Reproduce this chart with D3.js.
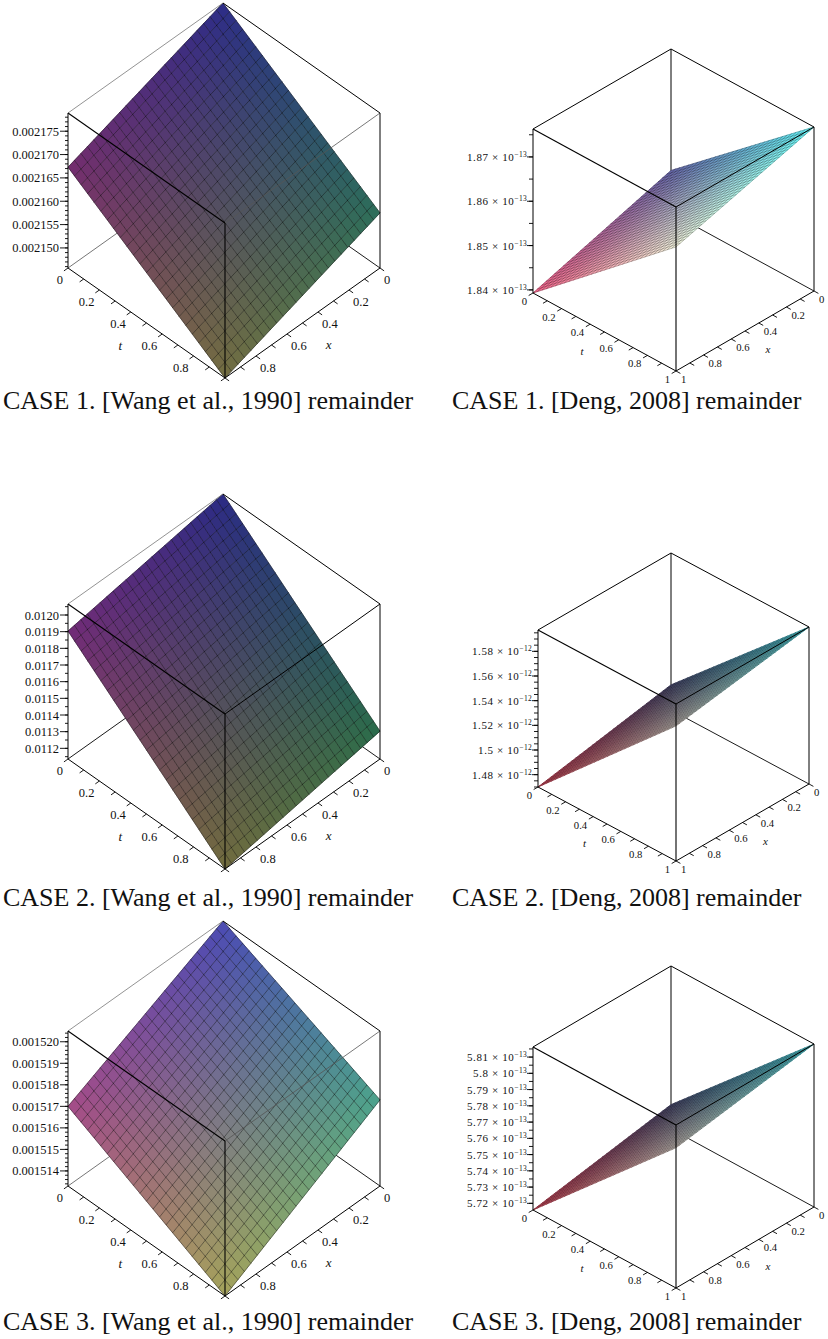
<!DOCTYPE html>
<html>
<head>
<meta charset="utf-8">
<script src="https://cdn.jsdelivr.net/npm/d3@7"></script>
<style>
    body { margin: 0; background: #fff; }
    svg { display: block; }
    text { font-family: "Liberation Serif", "Times New Roman", serif; fill: #111; }
</style>
</head>
<body>
<svg id="chart" width="828" height="1339"></svg>
<script>
// captions
const caseNames = ['CASE 1.', 'CASE 2.', 'CASE 3.'];
const methodNames = ['[Wang et al., 1990] remainder', '[Deng, 2008] remainder'];

// t and x axis ticks
const wangAxisTicks = [0, 0.2, 0.4, 0.6, 0.8];
const dengAxisTicks = [0, 0.2, 0.4, 0.6, 0.8, 1];

// remainder at the four corners (t,x) = (0,0), (0,1), (1,0), (1,1)
const wangCase1 = [0.0021789, 0.0021673, 0.0021575, 0.0021457];
const wangCase2 = [0.012066, 0.011904, 0.011303, 0.011136];
const wangCase3 = [0.0015205, 0.0015170, 0.0015173, 0.0015133];
const dengCase1 = [1.8489e-13, 1.8393e-13, 1.8763e-13, 1.8673e-13];
const dengCase2 = [1.4904e-12, 1.4700e-12, 1.5973e-12, 1.5795e-12];
const dengCase3 = [5.7309e-13, 5.7159e-13, 5.8162e-13, 5.8022e-13];

// z axis tick values
const wangCase1Ticks = [0.002150, 0.002155, 0.002160, 0.002165, 0.002170, 0.002175];
const wangCase2Ticks = [0.0112, 0.0113, 0.0114, 0.0115, 0.0116, 0.0117, 0.0118, 0.0119, 0.0120];
const wangCase3Ticks = [0.001514, 0.001515, 0.001516, 0.001517, 0.001518, 0.001519, 0.001520];
const dengCase1Ticks = [1.84e-13, 1.85e-13, 1.86e-13, 1.87e-13];
const dengCase2Ticks = [1.48e-12, 1.50e-12, 1.52e-12, 1.54e-12, 1.56e-12, 1.58e-12];
const dengCase3Ticks = [5.72e-13, 5.73e-13, 5.74e-13, 5.75e-13, 5.76e-13, 5.77e-13, 5.78e-13, 5.79e-13, 5.80e-13, 5.81e-13];
const wangMinorSteps = [1e-6, 5e-5, 2e-7];
const dengMinorSteps = [0.005e-13, 0.005e-12, 0.005e-13];
const dengExponents = [-13, -12, -13];

const svg = d3.select('#chart');

// screen placement of each box: origin = (t=0, x=0, zmin), and unit vectors
// base and gain per rgb channel for the (x, t, z) colouring
const wangLayout = [
    { o: [223, 158], T: [157, 110], X: [-155, 110], Z: [0, -155],
      base: [45, 45, 65], gain: [70, 65, 70], grey: true },
    { o: [223, 649], T: [157, 110], X: [-155, 110], Z: [0, -155],
      base: [43, 43, 62], gain: [70, 65, 70], grey: false },
    { o: [223, 1076], T: [157, 110], X: [-155, 110], Z: [0, -155],
      base: [75, 75, 90], gain: [90, 88, 90], grey: true }
];
const dengLayout = [
    { o: [671, 213], T: [143, 78], X: [-138, 80], Z: [0, -164],
      base: [100, 100, 140], gain: [150, 150, 115] },
    { o: [671, 710], T: [138, 74], X: [-133, 77], Z: [0, -157],
      base: [70, 70, 90], gain: [140, 130, 120] },
    { o: [671, 1129], T: [143, 78], X: [-138, 81], Z: [0, -163],
      base: [70, 70, 90], gain: [140, 130, 120] }
];
const captionY = [409, 906, 1330];

const wangData = [wangCase1, wangCase2, wangCase3];
const wangTicks = [wangCase1Ticks, wangCase2Ticks, wangCase3Ticks];
const dengData = [dengCase1, dengCase2, dengCase3];
const dengTicks = [dengCase1Ticks, dengCase2Ticks, dengCase3Ticks];

wangLayout.forEach((lay, i) => {
    drawPanel(Object.assign({}, lay, {
        corners: wangData[i], zTicks: wangTicks[i], minor: wangMinorSteps[i],
        axisTicks: wangAxisTicks, kind: 'wang',
        fmt: i === 1 ? d3.format('.4f') : d3.format('.6f')
    }));
    svg.append('text').attr('x', 3).attr('y', captionY[i])
        .style('font-size', '26px')
        .text(caseNames[i] + ' ' + methodNames[0]);
});

dengLayout.forEach((lay, i) => {
    drawPanel(Object.assign({}, lay, {
        corners: dengData[i], zTicks: dengTicks[i], minor: dengMinorSteps[i],
        axisTicks: dengAxisTicks, kind: 'deng', exponent: dengExponents[i]
    }));
    svg.append('text').attr('x', 452).attr('y', captionY[i])
        .style('font-size', '26px')
        .text(caseNames[i] + ' ' + methodNames[1]);
});

function drawPanel(p) {
    const g = svg.append('g');
    const wang = p.kind === 'wang';
    const zScale = d3.scaleLinear().domain(d3.extent(p.corners)).range([0, 1]);
    const unit = d3.scaleLinear().domain([0, 1]).range([0, 1]);

    const proj = (t, x, zn) => [
        p.o[0] + p.T[0] * unit(t) + p.X[0] * unit(x) + p.Z[0] * zn,
        p.o[1] + p.T[1] * unit(t) + p.X[1] * unit(x) + p.Z[1] * zn
    ];
    const c = p.corners;
    const surfZ = (t, x) => zScale(
        c[0] * (1 - t) * (1 - x) + c[1] * (1 - t) * x + c[2] * t * (1 - x) + c[3] * t * x
    );
    const colour = (t, x, zn) => d3.rgb(
        p.base[0] + p.gain[0] * x,
        p.base[1] + p.gain[1] * t,
        p.base[2] + p.gain[2] * zn
    ).toString();

    const line = d3.line();
    const V = {
        A: proj(0, 0, 1), B: proj(0, 1, 1), C: proj(1, 0, 1), D: proj(1, 1, 1),
        E: proj(0, 0, 0), F: proj(0, 1, 0), G: proj(1, 0, 0), H: proj(1, 1, 0)
    };
    const edge = (a, b, stroke, w) => g.append('path')
        .attr('d', line([V[a], V[b]]))
        .attr('fill', 'none')
        .attr('stroke', stroke)
        .attr('stroke-width', w);

    // back edges, hidden by the surface
    edge('E', 'A', '#000', 1);
    edge('E', 'F', wang && p.grey ? '#666' : '#000', 0.9);
    edge('E', 'G', '#000', 0.9);

    // surface
    const n = wang ? 25 : 33;
    const grid = d3.range(n).map(i => i / (n - 1));
    const cells = [];
    for (let i = 0; i < n - 1; i++) {
        for (let j = 0; j < n - 1; j++) {
            cells.push({ t0: grid[i], t1: grid[i + 1], x0: grid[j], x1: grid[j + 1] });
        }
    }
    const cellColour = d => {
        const t = (d.t0 + d.t1) / 2, x = (d.x0 + d.x1) / 2;
        return colour(t, x, surfZ(t, x));
    };
    g.append('g').selectAll('path')
        .data(cells)
        .enter()
        .append('path')
        .attr('d', d => line([
            proj(d.t0, d.x0, surfZ(d.t0, d.x0)),
            proj(d.t1, d.x0, surfZ(d.t1, d.x0)),
            proj(d.t1, d.x1, surfZ(d.t1, d.x1)),
            proj(d.t0, d.x1, surfZ(d.t0, d.x1))
        ]) + 'Z')
        .attr('fill', cellColour)
        .attr('stroke', cellColour)
        .attr('stroke-width', 0.6);

    const mesh = g.append('g')
        .attr('fill', 'none')
        .attr('stroke', '#000')
        .attr('stroke-opacity', wang ? 0.45 : 0.42)
        .attr('stroke-width', wang ? 0.9 : 0.6);
    grid.forEach(u => {
        mesh.append('path').attr('d', line([proj(u, 0, surfZ(u, 0)), proj(u, 1, surfZ(u, 1))]));
        mesh.append('path').attr('d', line([proj(0, u, surfZ(0, u)), proj(1, u, surfZ(1, u))]));
    });

    // front edges
    edge('A', 'B', wang ? '#777' : '#000', wang ? 0.8 : 1);
    edge('A', 'C', '#000', 1);
    edge('B', 'D', '#000', 1.1);
    edge('C', 'D', wang && p.grey ? '#555' : '#000', wang && p.grey ? 0.8 : 1);
    edge('B', 'F', '#000', 1);
    edge('C', 'G', '#000', 1);
    edge('D', 'H', '#000', 1.1);
    edge('F', 'H', '#000', 1);
    edge('G', 'H', '#000', 1);

    // t and x axis tick marks
    const norm = v => { const l = Math.hypot(v[0], v[1]); return [v[0] / l, v[1] / l]; };
    const Xu = norm(p.X), Tu = norm(p.T);
    const ticks = g.append('g').attr('stroke', '#000').attr('stroke-width', 0.9);
    d3.range(11).map(k => k / 10).forEach(u => {
        const a = proj(u, 1, 0), b = proj(1, u, 0);
        ticks.append('path').attr('d', line([a, [a[0] + Xu[0] * 5, a[1] + Xu[1] * 5]]));
        ticks.append('path').attr('d', line([b, [b[0] + Tu[0] * 5, b[1] + Tu[1] * 5]]));
    });

    const axisFont = wang ? '12.5px' : '10.7px';
    const dy = wang ? 16 : 12;
    const off = wang ? 5 : 6;
    p.axisTicks.forEach(u => {
        const a = proj(u, 1, 0), b = proj(1, u, 0);
        g.append('text').attr('x', a[0] - off).attr('y', a[1] + dy)
            .attr('text-anchor', 'end').style('font-size', axisFont).text(u);
        g.append('text').attr('x', b[0] + off - 1).attr('y', b[1] + dy)
            .attr('text-anchor', 'start').style('font-size', axisFont).text(u);
    });

    const tm = proj(0.5, 1, 0), xm = proj(1, 0.5, 0);
    const lab = wang ? 32 : 26;
    g.append('text')
        .attr('x', tm[0] + Xu[0] * lab).attr('y', tm[1] + Xu[1] * lab + (wang ? 8 : 10))
        .attr('text-anchor', 'middle').style('font-size', wang ? '13px' : '11px')
        .style('font-style', 'italic').text('t');
    g.append('text')
        .attr('x', xm[0] + Tu[0] * lab).attr('y', xm[1] + Tu[1] * lab + (wang ? 8 : 10))
        .attr('text-anchor', 'middle').style('font-size', wang ? '13px' : '11px')
        .style('font-style', 'italic').text('x');

    // z axis on the left vertical edge
    const [z0, z1] = zScale.domain();
    const minorTicks = d3.range(Math.ceil(z0 / p.minor - 1e-6), Math.floor(z1 / p.minor + 1e-6) + 1)
        .map(k => k * p.minor);
    const zt = g.append('g').attr('stroke', '#000').attr('stroke-width', 0.9);
    minorTicks.forEach(z => {
        const a = proj(0, 1, zScale(z));
        zt.append('path').attr('d', line([a, [a[0] - (wang ? 3 : 4), a[1]]]));
    });
    p.zTicks.forEach(z => {
        const a = proj(0, 1, zScale(z));
        zt.append('path').attr('d', line([a, [a[0] - (wang ? 8 : 6), a[1]]]));
        if (wang) {
            g.append('text').attr('x', a[0] - 9).attr('y', a[1] + 4.5)
                .attr('text-anchor', 'end').style('font-size', '12.5px')
                .text(p.fmt(z));
        } else {
            const mant = +(z / Math.pow(10, p.exponent)).toFixed(2);
            const txt = g.append('text').attr('x', a[0] - 6).attr('y', a[1] + 4)
                .attr('text-anchor', 'end').style('font-size', '11px');
            txt.append('tspan').style('letter-spacing', '0.6px').text(mant + ' \u00d7 10');
            txt.append('tspan').attr('dy', -4).style('font-size', '7.5px')
                .style('letter-spacing', '0.3px').text('\u2212' + Math.abs(p.exponent));
        }
    });
}
</script>
</body>
</html>
